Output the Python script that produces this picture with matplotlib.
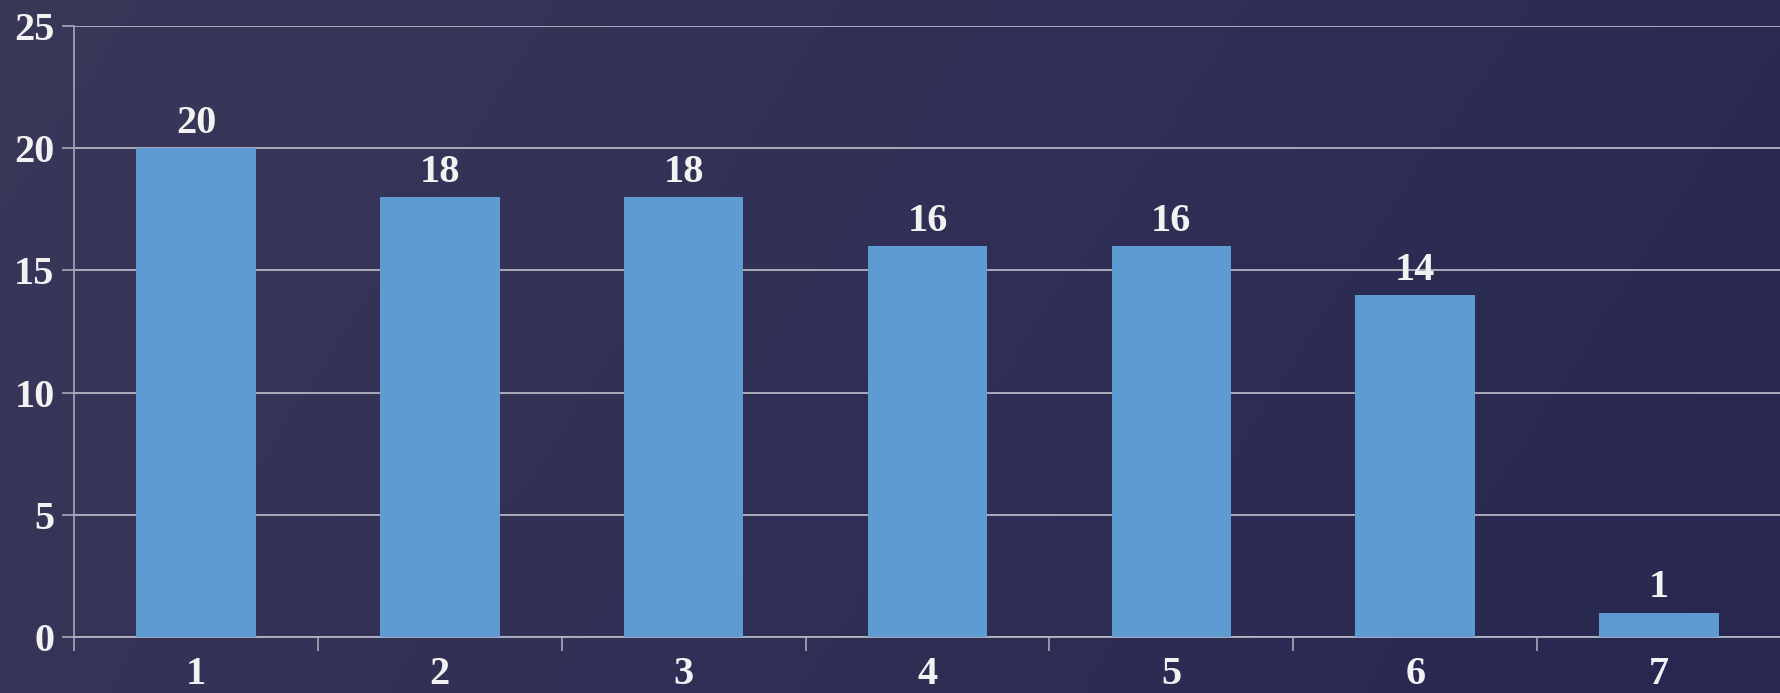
import numpy as np
import matplotlib.pyplot as plt
from matplotlib.colors import LinearSegmentedColormap

categories = ['1', '2', '3', '4', '5', '6', '7']
values = [20, 18, 18, 16, 16, 14, 1]
yticks = [0, 5, 10, 15, 20, 25]

plt.rcParams['font.family'] = ['Liberation Serif', 'DejaVu Serif']
plt.rcParams['font.weight'] = 'bold'

fig = plt.figure(figsize=(17.81, 6.93), dpi=100)

## fundo com gradiente
bg = fig.add_axes([0, 0, 1, 1], zorder=-10)
cmap = LinearSegmentedColormap.from_list('bg', ['#3a3859', '#302f55', '#282750'])
grad = np.linspace(0, 1, 256).reshape(1, -1) + np.linspace(0, 0.25, 64).reshape(-1, 1)
bg.imshow(grad, aspect='auto', cmap=cmap, extent=[0, 1, 0, 1], vmin=0, vmax=1.25)
bg.axis('off')

W, H = 1781, 693
ax = fig.add_axes([74 / W, 1 - 637 / H, 1 - 74 / W, (637 - 26) / H])
ax.patch.set_alpha(0)

x = np.arange(len(categories))
ax.bar(x, values, width=0.49, color='#5f9bd3', zorder=3)
for xi, v in zip(x, values):
    ax.text(xi, v + 0.25, str(v), ha='center', va='bottom', color='#f2f2f2',
            fontsize=29, fontweight='bold', zorder=4)

ax.set_xlim(-0.5, len(categories) - 0.5)
ax.set_ylim(0, 25)
ax.set_yticks(yticks)
ax.set_yticklabels([str(t) for t in yticks])
ax.set_xticks(x)
ax.set_xticklabels(categories)
ax.set_xticks(np.arange(-0.5, len(categories), 1.0), minor=True)
ax.tick_params(axis='x', which='major', length=0, pad=14, labelsize=29, labelcolor='#f2f2f2')
ax.tick_params(axis='x', which='minor', length=10, color='#a8a8b8', width=1.2)
ax.tick_params(axis='y', length=9, color='#a8a8b8', width=1.2, pad=5, labelsize=29,
               labelcolor='#f2f2f2')

ax.grid(axis='y', color='#b4b4c2', linewidth=1.3, zorder=1)
for s in ['top', 'right']:
    ax.spines[s].set_visible(False)
ax.spines['left'].set_color('#a8a8b8')
ax.spines['bottom'].set_color('#b4b4c2')
ax.spines['left'].set_linewidth(1.2)
ax.spines['bottom'].set_linewidth(1.3)

fig.savefig('out.png', dpi=100)
